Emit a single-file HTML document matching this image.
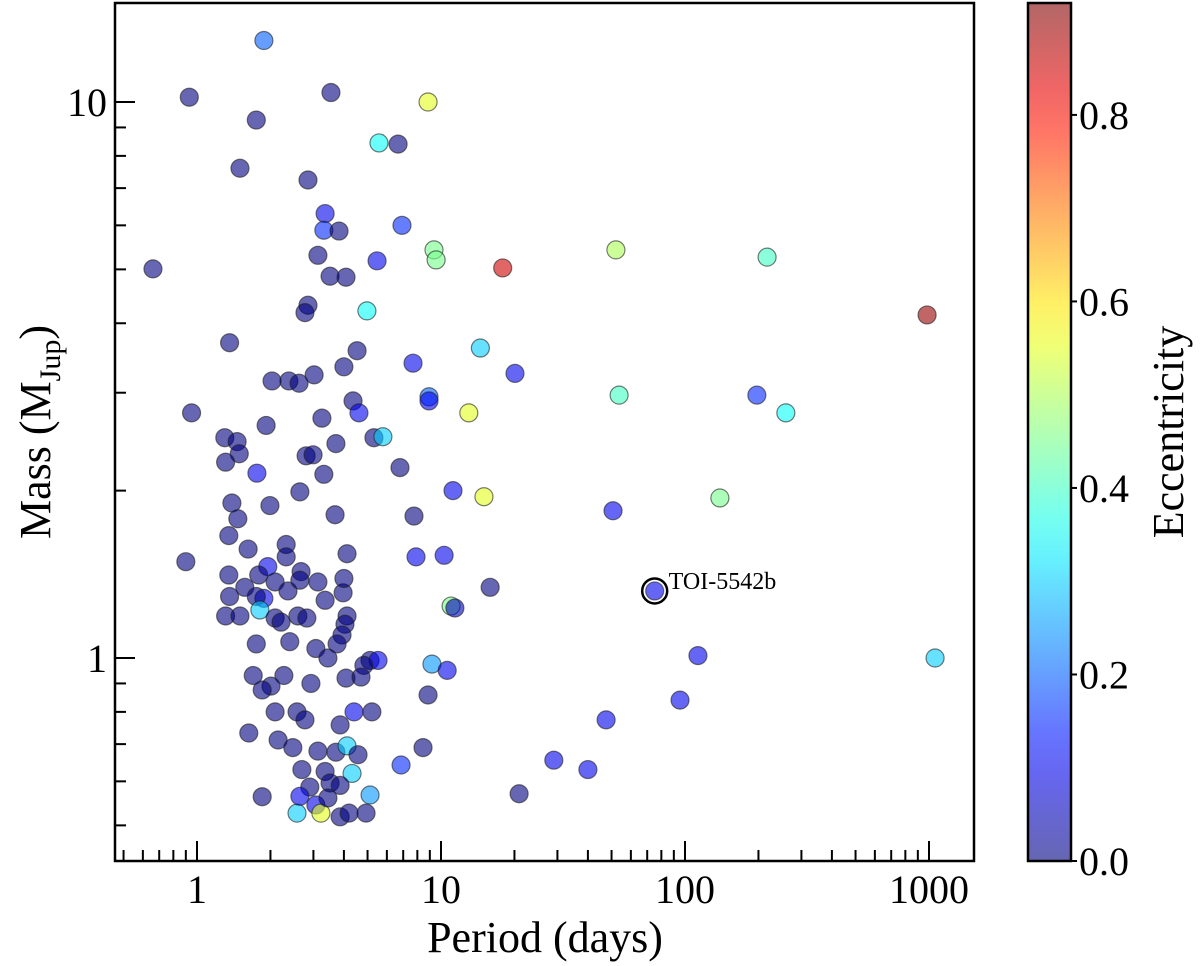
<!DOCTYPE html>
<html><head><meta charset="utf-8"><style>
html,body{margin:0;padding:0;background:#fff;}
svg{display:block;font-family:"Liberation Serif",serif;}
</style></head><body>
<svg id="chart" width="1200" height="966" viewBox="0 0 1200 966" xmlns="http://www.w3.org/2000/svg">
<defs><linearGradient id="cbgrad" x1="0" y1="1" x2="0" y2="0"></linearGradient></defs>
<g id="points"></g>
<g id="axes"></g>
</svg>
<script>
const periods=[1.88,0.93,3.54,8.85,1.75,5.57,6.67,1.5,2.85,3.35,6.92,3.31,3.82,3.13,9.36,9.55,5.47,52.1,217,17.9,0.66,3.51,4.08,4.97,2.85,2.77,982,1.36,14.5,4.53,7.68,4.0,3.02,20.1,2.03,2.38,2.62,8.93,8.93,53.7,197,259,13.0,0.95,4.36,4.61,3.25,1.92,3.71,1.30,1.46,5.31,5.78,1.49,1.31,2.8,2.99,3.31,1.76,6.79,2.64,11.2,15.0,139,1.99,1.39,50.7,7.75,1.47,3.68,1.35,2.32,1.62,2.32,4.12,0.90,10.3,7.9,1.95,2.67,1.35,1.79,3.13,2.09,1.57,1.36,1.88,2.36,2.64,3.35,3.97,4.0,1.75,15.9,1.81,11.0,11.4,1.31,1.5,2.09,2.21,2.59,4.12,4.04,2.82,3.93,3.75,2.4,3.07,1.75,3.44,5.12,5.52,4.83,9.18,10.6,113,1059,1.70,2.27,2.93,4.08,4.7,2.01,1.85,95.4,8.85,2.09,2.57,5.21,4.4,2.77,3.86,47.5,1.63,2.15,2.47,3.13,3.71,4.12,4.57,8.44,29.0,6.86,40.0,2.69,3.35,4.32,3.51,3.86,2.9,5.12,1.85,20.9,3.07,2.57,3.22,3.86,4.93,4.2,3.44,2.64];
const masses=[12.9,10.2,10.4,10.0,9.28,8.44,8.4,7.6,7.24,6.3,6.0,5.88,5.86,5.3,5.42,5.2,5.18,5.42,5.26,5.03,5.01,4.86,4.84,4.21,4.31,4.18,4.14,3.69,3.61,3.57,3.39,3.34,3.23,3.25,3.15,3.15,3.12,2.95,2.9,2.97,2.97,2.76,2.76,2.76,2.9,2.76,2.7,2.62,2.43,2.49,2.45,2.49,2.5,2.33,2.25,2.31,2.32,2.14,2.15,2.2,1.99,2.0,1.95,1.94,1.88,1.9,1.84,1.8,1.78,1.81,1.66,1.6,1.57,1.52,1.54,1.49,1.53,1.52,1.46,1.43,1.41,1.41,1.37,1.37,1.34,1.29,1.28,1.32,1.38,1.27,1.31,1.39,1.29,1.34,1.22,1.24,1.23,1.19,1.19,1.18,1.16,1.19,1.19,1.15,1.18,1.10,1.06,1.07,1.04,1.06,1.0,0.99,0.99,0.97,0.975,0.95,1.01,1.0,0.93,0.93,0.90,0.92,0.924,0.89,0.876,0.84,0.858,0.8,0.8,0.8,0.8,0.774,0.758,0.774,0.733,0.712,0.69,0.68,0.677,0.695,0.67,0.69,0.655,0.642,0.63,0.63,0.625,0.62,0.596,0.59,0.586,0.567,0.563,0.57,0.544,0.526,0.526,0.518,0.526,0.526,0.56,0.564];
const eccs=[0.2,0,0,0.55,0,0.35,0,0,0,0.1,0.15,0.15,0,0,0.45,0.45,0.1,0.5,0.4,0.85,0,0,0,0.35,0,0,0.9,0,0.3,0,0.1,0,0,0.1,0,0,0,0.2,0.1,0.4,0.15,0.35,0.55,0,0,0.1,0,0,0,0,0,0,0.3,0,0,0,0,0,0.1,0,0,0.1,0.55,0.45,0,0,0.1,0,0,0,0,0,0,0,0,0,0.1,0.1,0.1,0,0,0,0,0,0,0,0.1,0,0,0,0,0,0,0,0.3,0.45,0.05,0,0,0,0,0,0,0,0,0,0,0,0,0,0,0,0.1,0,0.25,0.1,0.1,0.3,0,0,0,0,0,0,0,0.1,0,0,0,0,0.1,0,0,0.1,0,0,0,0,0,0.3,0,0,0.1,0.15,0.1,0,0,0.3,0,0,0,0.25,0,0,0.1,0.3,0.55,0,0,0,0,0.1];
const highlightName="TOI-5542b";
const highlightPeriod=75.12, highlightMass=1.32, highlightEcc=0.1;
const xTickVals=[1,10,100,1000], xTickLabels=["1","10","100","1000"];
const yTickVals=[1,10], yTickLabels=["1","10"];
const cbTickVals=[0,0.2,0.4,0.6,0.8], cbTickLabels=["0.0","0.2","0.4","0.6","0.8"];

const L=115,R=974,T=3,B=861;
const X0=197, XD=244, Y0=658, YD=556;
const xs=v=>X0+Math.log10(v)*XD;
const ys=v=>Y0-Math.log10(v)*YD;
const VMAX=0.92, CBL=1028, CBR=1071;
const cbY=v=>B-v/VMAX*(B-T);
function jet(t){
  const c=x=>Math.max(0,Math.min(1,x));
  const r=c(1.5-Math.abs(4*t-3)), g=c(1.5-Math.abs(4*t-2)), b=c(1.5-Math.abs(4*t-1));
  return [r,g,b];
}
function col(e,a){const [r,g,b]=jet(Math.min(1,e/VMAX));const m=v=>Math.round(255*(1-a)+255*v*a);return `rgb(${m(r)},${m(g)},${m(b)})`;}
const NS="http://www.w3.org/2000/svg";
function mk(tag,attrs,parent){const el=document.createElementNS(NS,tag);for(const k in attrs)el.setAttribute(k,attrs[k]);parent.appendChild(el);return el;}
const svg=document.getElementById('chart');
const pts=document.getElementById('points');
const ax=document.getElementById('axes');

for(let i=0;i<periods.length;i++){
  const [r,g,b]=jet(Math.min(1,eccs[i]/VMAX));
  const c=mk('circle',{cx:xs(periods[i]),cy:ys(masses[i]),r:9,fill:`rgb(${Math.round(r*255)},${Math.round(g*255)},${Math.round(b*255)})`,'fill-opacity':0.6,stroke:'#222','stroke-opacity':0.6,'stroke-width':1.2},pts);
  
  
}
{
  const [r,g,b]=jet(highlightEcc/VMAX);
  const hx=xs(highlightPeriod), hy=ys(highlightMass);
  const c=mk('circle',{cx:hx,cy:hy,r:9,fill:`rgb(${Math.round(r*255)},${Math.round(g*255)},${Math.round(b*255)})`,'fill-opacity':0.6,stroke:'#222','stroke-opacity':0.6,'stroke-width':1.2},pts);
  
  
  const ring=mk('circle',{cx:hx,cy:hy,r:12.5,fill:'none',stroke:'#000','stroke-width':2.5},pts);
  
  
  const t=mk('text',{x:hx+14,y:hy-2,'font-size':24,fill:'#000'},pts);
  t.textContent=highlightName;
  
  
}
// frame
const frame=mk('rect',{x:L,y:T,width:R-L,height:B-T,fill:'none',stroke:'#000','stroke-width':2.5},ax);


// x ticks
for(let d=-1;d<=3;d++){
  for(let k=1;k<10;k++){
    const v=k*Math.pow(10,d);const x=xs(v);
    if(x<L||x>R)continue;
    const len=k===1?20:11;
    const tk=mk('line',{x1:x,y1:B,x2:x,y2:B-len,stroke:'#000','stroke-width':2},ax);
    
    
  }
}
xTickVals.forEach((v,i)=>{
  const t=mk('text',{x:xs(v),y:B+42,'font-size':40,'text-anchor':'middle'},ax);
  t.textContent=xTickLabels[i];
  
  
});
// y ticks
for(let d=-1;d<=1;d++){
  for(let k=1;k<10;k++){
    const v=k*Math.pow(10,d);const y=ys(v);
    if(y<T||y>B)continue;
    const len=k===1?20:11;
    const tk=mk('line',{x1:L,y1:y,x2:L+len,y2:y,stroke:'#000','stroke-width':2},ax);
    
    
  }
}
yTickVals.forEach((v,i)=>{
  const t=mk('text',{x:L-8,y:ys(v)+14,'font-size':40,'text-anchor':'end'},ax);
  t.textContent=yTickLabels[i];
  
  
});
const xt=mk('text',{x:545,y:952,'font-size':44,'text-anchor':'middle'},ax);
xt.textContent='Period (days)';


const yt=mk('text',{x:0,y:0,'font-size':44,'text-anchor':'middle',transform:`translate(50,${(T+B)/2}) rotate(-90)`},ax);
yt.innerHTML='Mass (M<tspan font-size="30" dy="10">Jup</tspan><tspan dy="-10">)</tspan>';


// colorbar
const grad=document.getElementById('cbgrad');
for(let s=0;s<=20;s++){const t=s/20;mk('stop',{offset:t,'stop-color':col(t*VMAX,0.6)},grad);}
const cb=mk('rect',{x:CBL,y:T,width:CBR-CBL,height:B-T,fill:'url(#cbgrad)',stroke:'#000','stroke-width':2.5},ax);


cbTickVals.forEach((v,i)=>{
  const y=cbY(v);
  const tk=mk('line',{x1:CBR,y1:y,x2:CBR+6,y2:y,stroke:'#000','stroke-width':2},ax);
  
  
  const t=mk('text',{x:CBR+8,y:y+14,'font-size':40},ax);
  t.textContent=cbTickLabels[i];
  
  
});
const ct=mk('text',{x:0,y:0,'font-size':44,'text-anchor':'middle',transform:`translate(1183,${(T+B)/2}) rotate(-90)`},ax);
ct.textContent='Eccentricity';


</script>
</body></html>
